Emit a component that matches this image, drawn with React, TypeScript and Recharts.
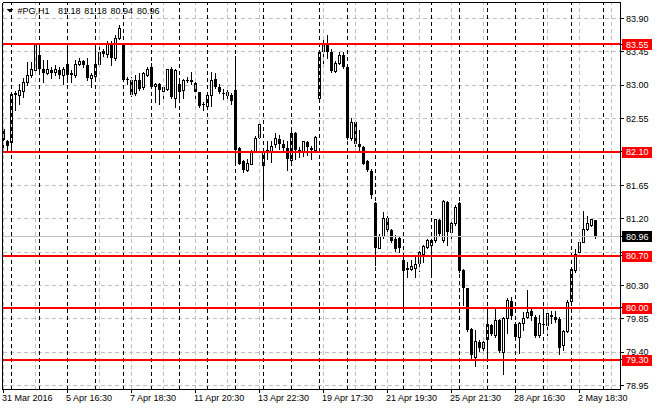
import React from "react";
import { ComposedChart, Bar, XAxis, YAxis, CartesianGrid, ReferenceLine } from "recharts";

const symbolTitle = "#PG,H1";

const opens = [
  82.41, 82.24, 82.23, 82.89, 82.86, 82.92, 83.04, 83.13, 83.2, 83.4,
  83.21, 83.16, 83.2, 83.17, 83.2, 83.13, 83.29, 83.16, 83.14, 83.28,
  83.32, 83.27, 83.09, 83.12, 83.29, 83.46, 83.42, 83.54, 83.36, 83.63,
  83.55, 83.08, 83.07, 82.89, 83.07, 82.98, 83.14, 83.25, 82.99, 83.02,
  82.92, 82.95, 83.21, 82.83, 83.02, 82.93, 83.07, 83.07, 83.03, 82.9,
  82.75, 82.72, 82.87, 83.08, 82.98, 82.89, 82.91, 82.86, 82.93, 82.15,
  81.97, 81.86, 81.94, 82.11, 82.3, 81.92, 82.12, 82.11, 82.21, 82.27,
  82.21, 82.15, 81.99, 82.35, 82.13, 82.11, 82.23, 82.15, 82.13, 82.83,
  83.46, 83.54, 83.44, 83.19, 83.3, 83.41, 83.25, 82.28, 82.5, 82.21,
  82.17, 81.97, 81.84, 81.41, 80.81, 80.96, 81.21, 81.05, 80.93, 80.94,
  80.64, 80.52, 80.52, 80.54, 80.6, 80.73, 80.82, 80.84, 80.91, 81.18,
  80.91, 81.42, 81.02, 81.14, 81.41, 80.51, 80.26, 79.71, 79.34, 79.54,
  79.45, 79.58, 79.77, 79.63, 79.84, 79.4, 79.86, 80.09, 79.78, 79.61,
  79.79, 79.87, 79.96, 79.88, 79.63, 79.78, 79.77, 79.9, 79.88, 79.85,
  79.5, 79.69, 80.09, 80.51, 80.75, 80.89, 81.06, 81.11, 81.18,
];
const highs = [
  82.44, 82.26, 82.91, 82.92, 83.02, 83.09, 83.31, 83.31, 83.56, 83.56,
  83.34, 83.34, 83.25, 83.27, 83.25, 83.25, 83.54, 83.2, 83.34, 83.36,
  83.34, 83.36, 83.16, 83.55, 83.55, 83.49, 83.6, 83.6, 83.67, 83.81,
  83.56, 83.11, 83.11, 83.13, 83.16, 83.18, 83.25, 83.3, 83.03, 83.03,
  83.0, 83.22, 83.25, 83.22, 83.04, 83.08, 83.11, 83.18, 83.07, 82.91,
  82.77, 82.89, 83.18, 83.16, 83.01, 82.95, 82.93, 82.89, 83.39, 82.17,
  81.99, 82.01, 82.12, 82.32, 82.49, 82.12, 82.24, 82.24, 82.35, 82.33,
  82.26, 82.24, 82.41, 82.37, 82.16, 82.25, 82.24, 82.18, 82.32, 83.45,
  83.66, 83.67, 83.49, 83.32, 83.44, 83.45, 83.26, 82.55, 82.51, 82.39,
  82.18, 81.99, 81.87, 81.42, 80.99, 81.29, 81.23, 81.06, 80.98, 80.97,
  80.71, 80.62, 80.64, 80.69, 80.76, 80.84, 80.93, 80.93, 81.2, 81.19,
  81.45, 81.44, 81.21, 81.38, 81.43, 80.52, 80.27, 79.72, 79.7, 79.57,
  79.61, 79.98, 79.78, 79.98, 79.85, 79.88, 80.13, 80.14, 79.81, 79.81,
  79.94, 80.24, 80.0, 79.9, 79.9, 80.0, 79.95, 79.95, 79.96, 79.87,
  79.7, 80.11, 80.54, 80.79, 80.91, 81.3, 81.24, 81.2, 81.18,
];
const lows = [
  82.15, 82.12, 82.11, 82.66, 82.75, 82.84, 83.0, 83.11, 83.19, 83.18,
  83.04, 83.15, 83.09, 83.13, 83.09, 83.02, 83.04, 83.04, 83.11, 83.27,
  83.25, 83.07, 82.98, 83.09, 83.28, 83.39, 83.38, 83.27, 83.34, 83.62,
  83.06, 83.02, 82.85, 82.86, 82.93, 82.95, 83.12, 82.97, 82.77, 82.75,
  82.77, 82.94, 82.82, 82.71, 82.82, 82.82, 83.04, 83.02, 82.83, 82.7,
  82.66, 82.71, 82.72, 82.96, 82.89, 82.81, 82.81, 82.75, 81.98, 81.93,
  81.83, 81.84, 81.93, 82.1, 82.29, 81.5, 82.01, 81.96, 82.16, 82.14,
  82.11, 81.85, 81.98, 82.01, 82.03, 82.05, 82.06, 82.01, 82.12, 82.82,
  83.28, 83.36, 83.18, 83.17, 83.29, 83.23, 82.27, 82.26, 82.18, 82.11,
  81.93, 81.84, 81.48, 80.58, 80.8, 80.94, 81.03, 80.88, 80.76, 80.75,
  80.0, 80.41, 80.51, 80.42, 80.49, 80.62, 80.8, 80.42, 80.89, 80.96,
  80.89, 80.84, 80.93, 81.11, 80.48, 80.04, 79.69, 79.32, 79.21, 79.41,
  79.4, 79.32, 79.63, 79.61, 79.4, 79.1, 79.66, 79.85, 79.59, 79.39,
  79.7, 79.86, 79.84, 79.6, 79.61, 79.68, 79.63, 79.79, 79.81, 79.37,
  79.43, 79.67, 80.08, 80.48, 80.73, 80.88, 81.05, 81.1, 80.94,
];
const closes = [
  82.26, 82.18, 82.88, 82.86, 82.94, 83.04, 83.13, 83.21, 83.55, 83.22,
  83.16, 83.21, 83.16, 83.21, 83.13, 83.21, 83.13, 83.14, 83.28, 83.33,
  83.27, 83.09, 83.13, 83.29, 83.44, 83.42, 83.56, 83.37, 83.64, 83.77,
  83.07, 83.07, 82.86, 83.07, 82.95, 83.16, 83.22, 82.98, 83.02, 82.93,
  82.97, 83.21, 82.84, 83.2, 82.91, 83.07, 83.06, 83.04, 82.91, 82.72,
  82.74, 82.86, 83.07, 82.98, 82.9, 82.89, 82.85, 82.78, 82.12, 81.94,
  81.85, 81.95, 82.11, 82.29, 82.47, 82.11, 82.11, 82.18, 82.28, 82.21,
  82.15, 82.01, 82.36, 82.12, 82.08, 82.24, 82.16, 82.13, 82.3, 83.44,
  83.56, 83.44, 83.19, 83.3, 83.4, 83.25, 82.28, 82.5, 82.2, 82.17,
  81.94, 81.85, 81.52, 80.8, 80.97, 81.21, 81.05, 80.9, 80.79, 80.8,
  80.5, 80.53, 80.56, 80.59, 80.75, 80.83, 80.91, 80.91, 81.19, 80.99,
  81.44, 81.02, 81.14, 81.36, 80.49, 80.27, 79.7, 79.36, 79.55, 79.46,
  79.54, 79.78, 79.64, 79.84, 79.41, 79.86, 80.11, 79.89, 79.61, 79.79,
  79.86, 79.94, 79.89, 79.62, 79.79, 79.77, 79.93, 79.87, 79.83, 79.45,
  79.68, 80.07, 80.52, 80.73, 80.89, 81.06, 81.14, 81.19, 80.96,
];

const xLabels = [
  "31 Mar 2016", "5 Apr 16:30", "7 Apr 18:30", "11 Apr 20:30", "13 Apr 22:30",
  "19 Apr 17:30", "21 Apr 19:30", "25 Apr 21:30", "28 Apr 16:30", "2 May 18:30",
];
const xLabelBars = [0, 16, 32, 48, 64, 80, 96, 112, 128, 144];
const gridBars = [0, 8, 16, 24, 32, 40, 48, 56, 64, 72, 80, 88, 96, 104, 112, 120, 128, 136, 144, 152];
const separatorBars = [2, 9, 16, 23, 30, 37, 44, 51, 58, 65, 72, 79, 86, 93, 100, 107, 114, 121, 128, 135, 142, 150];
const yTicks = [78.95, 79.4, 79.85, 80.3, 80.75, 81.2, 81.65, 82.1, 82.55, 83.0, 83.45, 83.9];
const levels = [83.55, 82.1, 80.7, 80.0, 79.3];

const X_DOMAIN: [number, number] = [-0.25, 154.25];
const Y_DOMAIN: [number, number] = [78.897, 84.113];
const FONT = "'Liberation Sans', Arial, sans-serif";

const data = opens.map((o, i) => ({
  i,
  open: o,
  high: highs[i],
  low: lows[i],
  close: closes[i],
  range: [lows[i], highs[i]],
}));

const last = data[data.length - 1];
const lastClose = last.close;

// plain ticks first, then the price boxes so they paint on top of them
const axisTicks = [...yTicks, ...levels, lastClose];
const plainTickCount = yTicks.length;

const Candle = (props: any) => {
  const { x, y, width, height } = props;
  const p = props.payload ?? props;
  if (x == null || y == null || p == null || p.high == null) return null;
  const top = Math.min(y, y + height);
  const bot = Math.max(y, y + height);
  const r = p.high - p.low;
  const py = (v: number) => (r > 0 ? top + ((p.high - v) / r) * (bot - top) : top);
  const cx = Math.floor(x + width / 2) + 0.5;
  const yo = py(p.open);
  const yc = py(p.close);
  const bull = p.close > p.open;
  const bt = Math.round(Math.min(yo, yc));
  const bb = Math.round(Math.max(yo, yc));
  return (
    <g>
      <line x1={cx} x2={cx} y1={Math.round(top)} y2={Math.round(bot) + 1} stroke="#000" strokeWidth={1} />
      {bull ? (
        <rect x={cx - 1} y={bt + 0.5} width={2} height={Math.max(bb - bt, 1)} fill="#fff" stroke="#000" strokeWidth={1} />
      ) : (
        <rect x={cx - 1.5} y={bt} width={3} height={Math.max(bb - bt, 1)} fill="#000" />
      )}
    </g>
  );
};

const XTick = (props: any) => {
  const { x, payload } = props;
  const idx = xLabelBars.indexOf(payload.value);
  return (
    <text x={x - 1.5} y={401} fontSize={9} fontFamily={FONT} fill="#000" textAnchor="start">
      {idx >= 0 ? xLabels[idx] : ""}
    </text>
  );
};

const YTick = (props: any) => {
  const { y, payload, index } = props;
  const v = Number(payload.value);
  if (index >= plainTickCount) {
    const bg = index === axisTicks.length - 1 ? "#000" : "#ff0000";
    return (
      <g>
        <rect x={622} y={Math.round(y) - 5} width={30} height={11} fill={bg} shapeRendering="crispEdges" />
        <text x={626} y={y + 3.3} fill="#fff" fontSize={9} fontFamily={FONT}>
          {v.toFixed(2)}
        </text>
      </g>
    );
  }
  // a plain tick hidden under a price box is not drawn
  const covered = [...levels, lastClose].some((l) => Math.abs(l - v) < 0.06);
  if (covered) return <g />;
  return (
    <text x={626} y={y + 3.3} fontSize={9} fontFamily={FONT} fill="#000" textAnchor="start">
      {v.toFixed(2)}
    </text>
  );
};

export default function App() {
  return (
    <div style={{ position: "relative", width: 660, height: 410, background: "#fff" }}>
      <style>{"body{margin:0;} .recharts-surface line, .recharts-surface rect, .recharts-surface path{shape-rendering:crispEdges;}"}</style>
      <ComposedChart width={660} height={410} data={data} margin={{ top: 2.5, right: 0, bottom: 0, left: 2.5 }}>
        <CartesianGrid vertical={false} stroke="#c0c0c0" strokeDasharray="4 3" horizontalValues={yTicks} />
        {gridBars.map((b) => (
          <ReferenceLine key={"g" + b} x={b} stroke="#c0c0c0" strokeDasharray="4 3" ifOverflow="visible" />
        ))}
        {separatorBars.map((b) => (
          <ReferenceLine key={"s" + b} x={b} stroke="#000" strokeDasharray="4 3" ifOverflow="visible" />
        ))}
        <XAxis
          type="number"
          dataKey="i"
          domain={X_DOMAIN}
          allowDataOverflow
          ticks={xLabelBars}
          interval={0}
          height={20.5}
          tickSize={3}
          axisLine={{ stroke: "#000" }}
          tickLine={{ stroke: "#000" }}
          tick={<XTick />}
        />
        <YAxis
          orientation="right"
          domain={Y_DOMAIN}
          allowDataOverflow
          ticks={axisTicks}
          interval={0}
          width={39.5}
          tickSize={3}
          axisLine={{ stroke: "#000" }}
          tickLine={{ stroke: "#000" }}
          tick={<YTick />}
        />
        <ReferenceLine y={lastClose} stroke="#c0c0c0" strokeWidth={1} />
        <Bar dataKey="range" barSize={3} shape={<Candle />} isAnimationActive={false} />
        {levels.map((v) => (
          <ReferenceLine key={"l" + v} y={v} stroke="#ff0000" strokeWidth={2} />
        ))}
        <ReferenceLine y={Y_DOMAIN[1]} stroke="#000" />
        <ReferenceLine x={X_DOMAIN[0]} stroke="#000" />
      </ComposedChart>
      <svg width={200} height={20} style={{ position: "absolute", left: 0, top: 0, pointerEvents: "none" }}>
        <polygon points="6.5,9 13.5,9 10,12.5" fill="#000" />
        <text x={17.5} y={14} fontSize={9} fontFamily={FONT} fill="#000">{symbolTitle}</text>
        {[last.open, last.high, last.low, last.close].map((v, k) => (
          <text key={k} x={58 + k * 26.3} y={14} fontSize={9} fontFamily={FONT} fill="#000">
            {v.toFixed(2)}
          </text>
        ))}
      </svg>
    </div>
  );
}
